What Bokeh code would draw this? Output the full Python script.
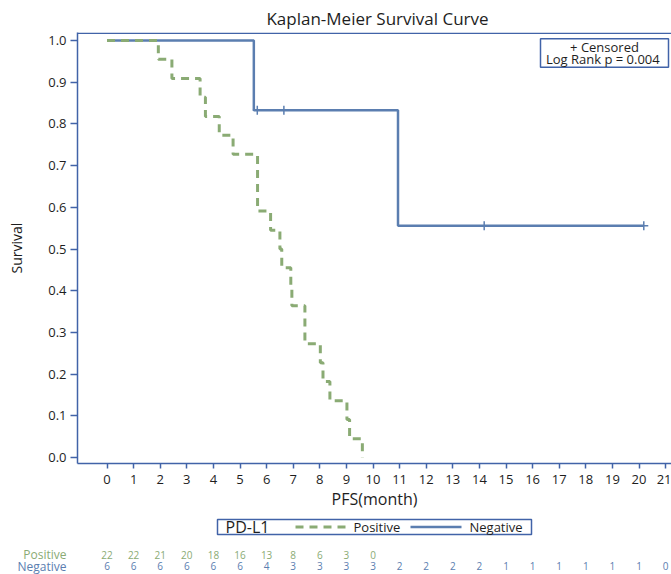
from bokeh.plotting import figure
from bokeh.models import Range1d, FixedTicker, PrintfTickFormatter, Span, Label, BoxAnnotation
from bokeh.core.properties import value
from bokeh.embed import file_html
from bokeh.resources import INLINE

# ---------------- data ----------------
pos_time = [0, 1.93, 2.44, 3.50, 3.70, 4.22, 4.74, 5.66, 6.15, 6.50, 6.57,
            6.91, 6.95, 7.44, 8.02, 8.12, 8.38, 9.02, 9.12, 9.60]
pos_surv = [1.000, 0.955, 0.909, 0.864, 0.818, 0.773, 0.727, 0.591, 0.545, 0.500, 0.455,
            0.409, 0.364, 0.273, 0.227, 0.182, 0.136, 0.091, 0.045, 0.000]

neg_time = [0, 5.52, 10.94, 20.18]
neg_surv = [1.000, 0.833, 0.556, 0.556]
neg_cens_time = [5.65, 6.65, 14.18, 20.18]
neg_cens_surv = [0.833, 0.833, 0.556, 0.556]

x_ticks = list(range(22))
y_ticks = [0.0, 0.1, 0.2, 0.3, 0.4, 0.5, 0.6, 0.7, 0.8, 0.9, 1.0]
pos_at_risk = [22, 22, 21, 20, 18, 16, 13, 8, 6, 3, 0]
neg_at_risk = [6, 6, 6, 6, 6, 6, 4, 3, 3, 3, 3, 2, 2, 2, 2, 1, 1, 1, 1, 1, 1, 0]

title_text = "Kaplan-Meier Survival Curve"
x_label = "PFS(month)"
y_label = "Survival"
group_title = "PD-L1"
group_names = ["Positive", "Negative"]
note_lines = ["+ Censored", "Log Rank p =  0.004"]

# ---------------- styling / layout (page pixels) ----------------
GREEN = "#8aab74"
BLUE = "#5b7eb0"
FRAME = "#4163a8"
TXT = "#1e1e1e"
FONT = "Open Sans"

W, H = 671, 574
TOP_H = 32                      # title strip: 0..32
MAIN_BOTTOM = 512               # main figure: 32..512, bottom strip: 512..574
FL, FR, FT, FB = 77, 671, 32, 463
X0PX, PXM = 106.5, 26.6         # pixel of month 0, pixels per month
Y1PX, Y0PX = 40.0, 457.0        # pixel of survival 1.0 and 0.0
PYU = Y0PX - Y1PX


def mx(px):
    return (px - X0PX) / PXM


def my(py):
    return (Y0PX - py) / PYU


def bare(fig):
    fig.outline_line_color = None
    fig.background_fill_color = "white"
    fig.border_fill_color = "white"
    fig.grid.visible = False
    return fig


def strip(height, y0, y1):
    return bare(figure(width=W, height=height, output_backend="svg", toolbar_location=None,
                       x_range=Range1d(mx(0), mx(W)), y_range=Range1d(y1, y0),
                       x_axis_location=None, y_axis_location=None, min_border=0,
                       min_border_left=0, min_border_right=0, min_border_top=0,
                       min_border_bottom=0))


# ---------- title strip ----------
top = strip(TOP_H, 0, TOP_H)
top.text(x=[mx(377)], y=[18], text=[title_text], text_align="center", text_baseline="middle",
         text_font=value(FONT), text_font_size="17px", text_color=TXT)

# ---------- main plot ----------
p = bare(figure(width=W, height=MAIN_BOTTOM - TOP_H, output_backend="svg", toolbar_location=None,
                x_range=Range1d(mx(FL), mx(FR)), y_range=Range1d(my(FB), my(FT)),
                min_border_left=FL, min_border_right=0, min_border_top=0,
                min_border_bottom=MAIN_BOTTOM - FB))

for ax in (p.xaxis[0], p.yaxis[0]):
    ax.axis_line_color = FRAME
    ax.axis_line_width = 1.5
    ax.major_tick_line_color = FRAME
    ax.major_tick_line_width = 1.5
    ax.major_tick_in = 0
    ax.minor_tick_line_color = None
    ax.major_label_text_font = FONT
    ax.major_label_text_font_size = "13px"
    ax.major_label_text_color = TXT
    ax.axis_label_text_font = FONT
    ax.axis_label_text_font_style = "normal"
    ax.axis_label_text_color = TXT

p.xaxis.ticker = FixedTicker(ticks=x_ticks)
p.xaxis.major_tick_out = 5
p.xaxis.major_label_standoff = 6
p.xaxis.axis_label = x_label
p.xaxis.axis_label_text_font_size = "16px"
p.xaxis.axis_label_standoff = 1

p.yaxis.ticker = FixedTicker(ticks=y_ticks)
p.yaxis.formatter = PrintfTickFormatter(format="%.1f")
p.yaxis.major_tick_out = 7
p.yaxis.major_label_standoff = 4
p.yaxis.axis_label = y_label
p.yaxis.axis_label_text_font_size = "14px"
p.yaxis.axis_label_standoff = 19

# top border of the frame
p.add_layout(Span(location=my(FT + 0.75), dimension="width", line_color=FRAME, line_width=1.5))

# curves
p.step(neg_time, neg_surv, mode="after", line_color=BLUE, line_width=2.5)
p.scatter(neg_cens_time, neg_cens_surv, marker="cross", size=9, line_color=BLUE, line_width=1.5)
p.step(pos_time, pos_surv, mode="after", line_color=GREEN, line_width=3, line_dash="8 6")

# censored / log-rank box
p.add_layout(BoxAnnotation(left=mx(540), right=mx(668), top=my(38.3), bottom=my(66.7),
                           fill_color=None, line_color=FRAME, line_width=1.5, line_alpha=1.0))
p.add_layout(Label(x=mx(604), y=my(46.5), text=note_lines[0], text_align="center",
                   text_baseline="middle", text_font=FONT, text_font_size="13px", text_color=TXT))
p.add_layout(Label(x=mx(604), y=my(58.5), text=note_lines[1], text_align="center",
                   text_baseline="middle", text_font=FONT, text_font_size="13px", text_color=TXT))

# ---------- legend + number-at-risk strip ----------
b = strip(H - MAIN_BOTTOM, MAIN_BOTTOM, H)
LB_L, LB_R, LB_T, LB_B = 217, 531, 519, 534
LY = (LB_T + LB_B) / 2
b.quad(left=[mx(LB_L)], right=[mx(LB_R)], top=[LB_T], bottom=[LB_B],
       fill_color=None, line_color=FRAME, line_width=1.5)
b.text(x=[mx(225)], y=[LY], text=[group_title], text_align="left", text_baseline="middle",
       text_font=value(FONT), text_font_size="16px", text_color=TXT)
b.line(x=[mx(295), mx(345)], y=[LY, LY], line_color=GREEN, line_width=3, line_dash="8 6")
b.text(x=[mx(353)], y=[LY], text=[group_names[0]], text_align="left", text_baseline="middle",
       text_font=value(FONT), text_font_size="13px", text_color=TXT)
b.line(x=[mx(410), mx(461)], y=[LY, LY], line_color=BLUE, line_width=2.5)
b.text(x=[mx(469)], y=[LY], text=[group_names[1]], text_align="left", text_baseline="middle",
       text_font=value(FONT), text_font_size="13px", text_color=TXT)

ROW_Y = [554, 565.5]
row_colors = [GREEN, BLUE]
b.text(x=[mx(66), mx(66)], y=ROW_Y, text=group_names, text_align="right", text_baseline="middle",
       text_font=value(FONT), text_font_size="12px", text_color=row_colors)
b.text(x=x_ticks[:len(pos_at_risk)], y=[ROW_Y[0]] * len(pos_at_risk),
       text=[str(v) for v in pos_at_risk], text_align="center", text_baseline="middle",
       text_font=value(FONT), text_font_size="10px", text_color=GREEN)
b.text(x=x_ticks[:len(neg_at_risk)], y=[ROW_Y[1]] * len(neg_at_risk),
       text=[str(v) for v in neg_at_risk], text_align="center", text_baseline="middle",
       text_font=value(FONT), text_font_size="10px", text_color=BLUE)

# three separate roots, stacked top to bottom (keeps each strip's own borders)
open("out.html", "w").write(file_html([top, p, b], INLINE))
